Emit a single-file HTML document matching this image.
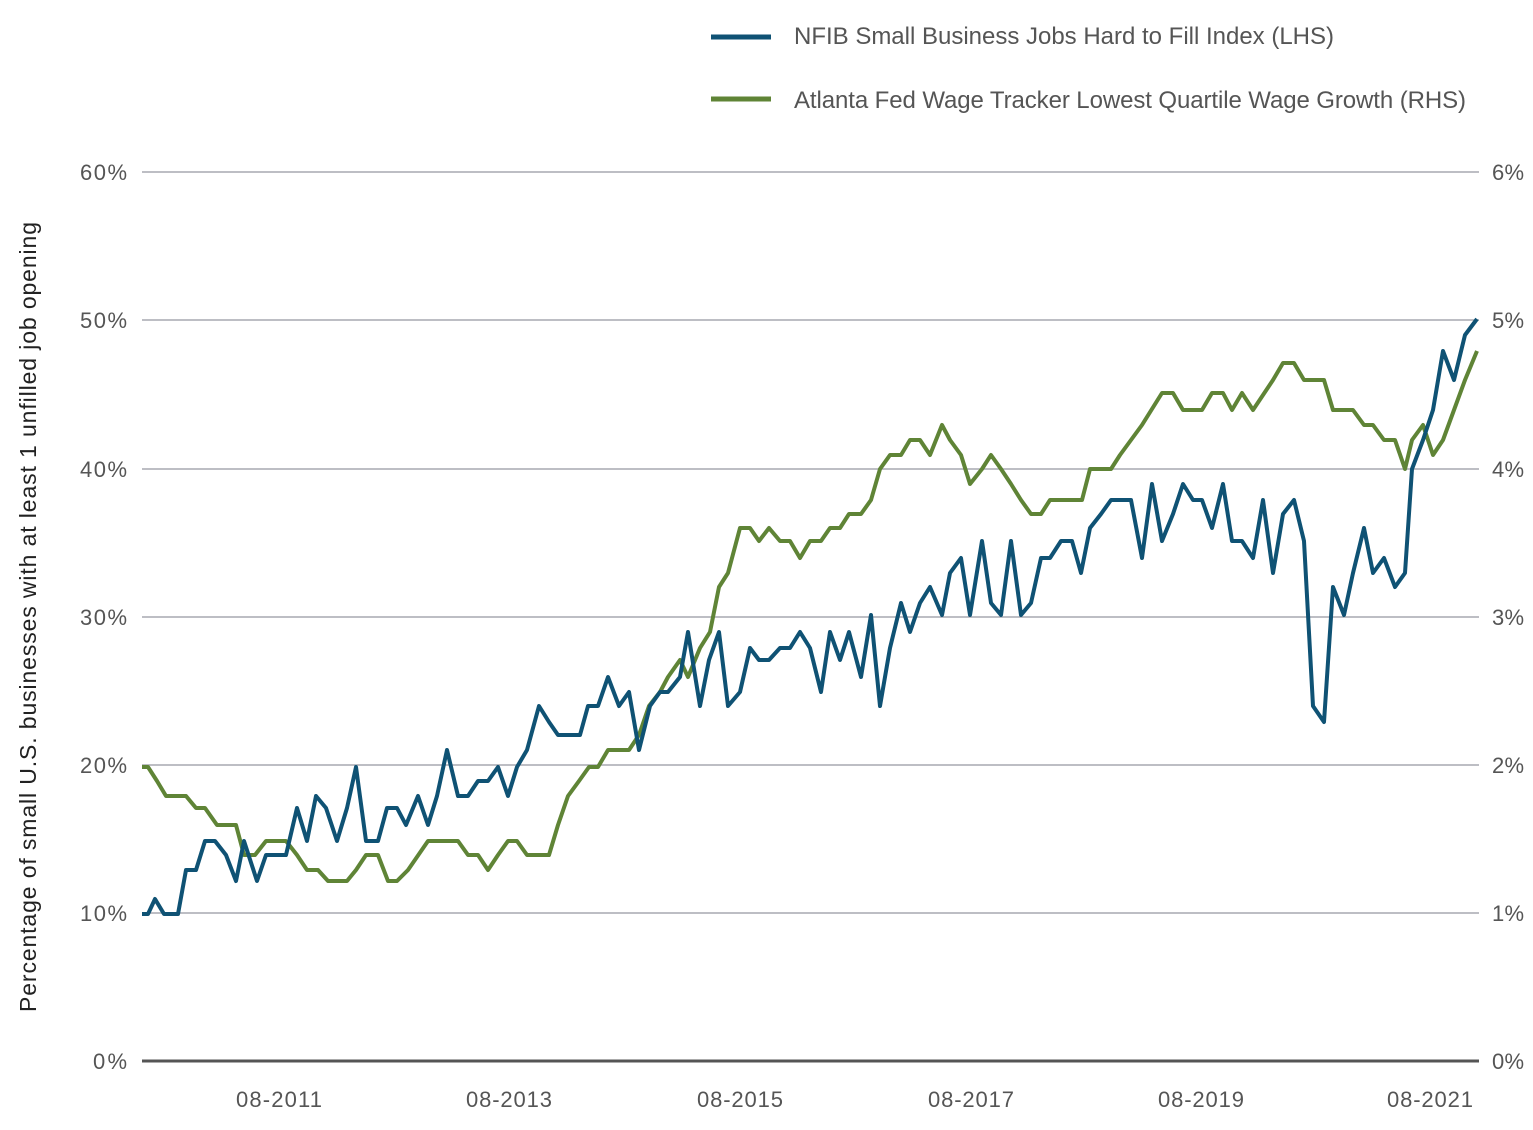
<!DOCTYPE html>
<html><head><meta charset="utf-8"><style>
html,body{margin:0;padding:0;background:#fff;}
svg{display:block;font-family:"Liberation Sans",sans-serif;}
</style></head><body>
<svg width="1533" height="1130" viewBox="0 0 1533 1130" xmlns="http://www.w3.org/2000/svg">
<g stroke="#a7a9b1" stroke-width="1.5">
<line x1="142" y1="172" x2="1479" y2="172"/>
<line x1="142" y1="320" x2="1479" y2="320"/>
<line x1="142" y1="469" x2="1479" y2="469"/>
<line x1="142" y1="617" x2="1479" y2="617"/>
<line x1="142" y1="765" x2="1479" y2="765"/>
<line x1="142" y1="913" x2="1479" y2="913"/>
</g>
<line x1="142" y1="1061" x2="1479" y2="1061" stroke="#555" stroke-width="3"/>
<g fill="#555" font-size="22">
<g text-anchor="end">
<text x="127" y="180" textLength="47">60%</text>
<text x="127" y="328" textLength="47">50%</text>
<text x="127" y="477" textLength="47">40%</text>
<text x="127" y="625" textLength="47">30%</text>
<text x="127" y="773" textLength="47">20%</text>
<text x="127" y="921" textLength="47">10%</text>
<text x="127" y="1069" textLength="34">0%</text>
</g>
<g text-anchor="start">
<text x="1492" y="180" textLength="32">6%</text>
<text x="1492" y="328" textLength="32">5%</text>
<text x="1492" y="477" textLength="32">4%</text>
<text x="1492" y="625" textLength="32">3%</text>
<text x="1492" y="773" textLength="32">2%</text>
<text x="1492" y="921" textLength="32">1%</text>
<text x="1492" y="1069" textLength="32">0%</text>
</g>
<g text-anchor="middle">
<text x="279" y="1107" textLength="86">08-2011</text>
<text x="509" y="1107" textLength="86">08-2013</text>
<text x="740" y="1107" textLength="86">08-2015</text>
<text x="971" y="1107" textLength="86">08-2017</text>
<text x="1201" y="1107" textLength="86">08-2019</text>
<text x="1430" y="1107" textLength="86">08-2021</text>
</g>
<text transform="translate(36,617) rotate(-90)" text-anchor="middle" font-size="23" fill="#222" textLength="790">Percentage of small U.S. businesses with at least 1 unfilled job opening</text>
<text x="794" y="44" font-size="24" textLength="540">NFIB Small Business Jobs Hard to Fill Index (LHS)</text>
<text x="794" y="108" font-size="24" textLength="672">Atlanta Fed Wage Tracker Lowest Quartile Wage Growth (RHS)</text>
</g>
<line x1="711" y1="37" x2="771" y2="37" stroke="#0f5274" stroke-width="5"/>
<line x1="711" y1="99" x2="771" y2="99" stroke="#5f8436" stroke-width="5"/>
<polyline fill="none" stroke="#5f8436" stroke-width="4" stroke-linejoin="round" points="142,767 148,767 157,781 166,796 186,796 196,808 205,808 217,825 236,825 244,855 255,855 266,841 286,841 297,855 307,870 318,870 328,881 347,881 356,870 366,855 378,855 388,881 397,881 408,870 428,841 458,841 468,855 478,855 488,870 498,855 508,841 517,841 527,855 549,855 558,825 568,796 579,781 589,767 598,767 608,750 629,750 639,735 649,706 660,692 668,677 680,660 688,677 700,648 710,632 719,587 728,573 740,528 750,528 759,541 769,528 780,541 790,541 800,558 810,541 821,541 830,528 840,528 849,514 861,514 871,500 880,469 890,455 901,455 910,440 920,440 930,455 942,425 950,440 961,455 970,484 982,469 991,455 1001,469 1011,484 1021,500 1031,514 1041,514 1050,500 1082,500 1090,469 1111,469 1120,455 1131,440 1142,425 1162,393 1173,393 1183,410 1202,410 1212,393 1223,393 1232,410 1242,393 1253,410 1273,380 1283,363 1294,363 1304,380 1324,380 1333,410 1353,410 1364,425 1373,425 1384,440 1395,440 1405,469 1412,440 1423,425 1433,455 1443,440 1454,410 1465,380 1477,351"/>
<polyline fill="none" stroke="#0f5274" stroke-width="4" stroke-linejoin="round" points="142,914 148,914 155,899 164,914 178,914 186,870 196,870 205,841 215,841 226,855 236,881 244,841 257,881 266,855 286,855 297,808 307,841 316,796 326,808 337,841 347,808 356,767 366,841 378,841 387,808 397,808 406,825 418,796 428,825 437,796 447,750 458,796 468,796 478,781 488,781 498,767 508,796 517,767 527,750 539,706 549,722 558,735 580,735 588,706 598,706 608,677 619,706 629,692 639,750 650,706 660,692 668,692 680,677 688,632 700,706 709,660 719,632 728,706 740,692 750,648 759,660 769,660 780,648 790,648 800,632 810,648 821,692 830,632 840,660 849,632 861,677 871,615 880,706 890,648 901,603 910,632 920,603 930,587 942,615 950,573 961,558 970,615 982,541 991,603 1001,615 1011,541 1021,615 1031,603 1041,558 1050,558 1061,541 1072,541 1081,573 1090,528 1101,514 1111,500 1131,500 1142,558 1152,484 1162,541 1173,514 1183,484 1193,500 1202,500 1212,528 1223,484 1232,541 1242,541 1253,558 1263,500 1273,573 1283,514 1294,500 1304,541 1313,706 1324,722 1333,587 1344,615 1353,573 1364,528 1373,573 1384,558 1395,587 1405,573 1412,469 1423,440 1433,410 1443,351 1454,380 1465,335 1477,319"/>
</svg>
</body></html>
